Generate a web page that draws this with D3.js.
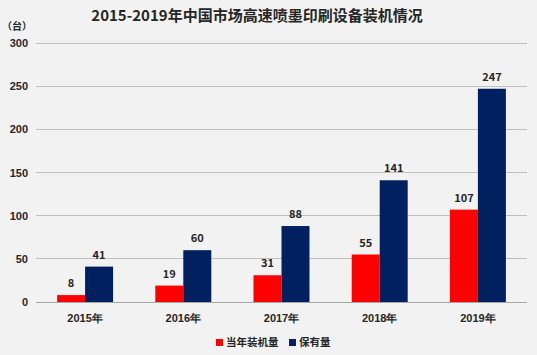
<!DOCTYPE html>
<html><head><meta charset="utf-8">
<script src="https://cdn.jsdelivr.net/npm/d3@7"></script>
<style>body{margin:0;background:#f2f2f2;}svg{display:block;font-family:"Noto Sans CJK SC","Noto Sans",sans-serif;}</style>
</head><body><svg id="c" width="537" height="355"></svg>
<script>
const categories = ["2015年","2016年","2017年","2018年","2019年"];
const seriesNames = ["当年装机量","保有量"];
const installed = [8,19,31,55,107];
const stock = [41,60,88,141,247];
const yTicks = [0,50,100,150,200,250,300];
const title = "2015-2019年中国市场高速喷墨印刷设备装机情况";
const unit = "（台）";
const colors = ["#ff0000","#002060"];

const svg = d3.select("#c");
svg.append("rect").attr("width",537).attr("height",355).attr("fill","#f2f2f2");
const m = {l:36, r:527, t:43, b:302};
const x = d3.scaleBand().domain(categories).range([m.l,m.r]).paddingInner(0.43).paddingOuter(0.215);
const xs = d3.scaleBand().domain(seriesNames).range([0,x.bandwidth()]);
const y = d3.scaleLinear().domain([0,300]).range([m.b,m.t]);

svg.append("g").selectAll("line").data(yTicks).join("line")
  .attr("x1",m.l).attr("x2",m.r).attr("y1",d=>y(d)).attr("y2",d=>y(d))
  .attr("stroke",d=>d===0?"#a6a6a6":"#bfbfbf").attr("stroke-width",1).attr("shape-rendering","crispEdges");

const yAxis = d3.axisLeft(y).tickValues(yTicks).tickSize(0).tickPadding(7);
const ga = svg.append("g").attr("transform",`translate(${m.l-1},0)`).call(yAxis);
ga.select(".domain").remove();
ga.selectAll("text").attr("font-size",11).attr("font-weight","bold").attr("fill","#262626");

const data = categories.map((c,i)=>({c, vals:[installed[i],stock[i]]}));
const g = svg.append("g").selectAll("g").data(data).join("g").attr("transform",d=>`translate(${x(d.c)},0)`);
g.selectAll("rect").data(d=>d.vals.map((v,j)=>({v,s:seriesNames[j],j}))).join("rect")
  .attr("x",d=>xs(d.s)).attr("width",xs.bandwidth()).attr("y",d=>y(d.v)).attr("height",d=>y(0)-y(d.v))
  .attr("fill",d=>colors[d.j]);
g.selectAll("text").data(d=>d.vals.map((v,j)=>({v,s:seriesNames[j],j}))).join("text")
  .attr("x",d=>xs(d.s)+xs.bandwidth()/2).attr("y",d=>y(d.v)-8).attr("text-anchor","middle")
  .attr("font-size",11).attr("font-weight","bold").attr("fill","#262626").text(d=>d.v);

const xAxis = d3.axisBottom(x).tickSize(0).tickPadding(12);
const gx = svg.append("g").attr("transform",`translate(0,${m.b})`).call(xAxis);
gx.select(".domain").remove();
gx.selectAll("text").attr("font-size",11).attr("font-weight","bold").attr("fill","#262626");

svg.append("text").attr("x",257).attr("y",21).attr("text-anchor","middle").attr("font-size",15)
  .attr("font-weight","bold").attr("fill","#262626").text(title);
svg.append("text").attr("x",2).attr("y",30).attr("font-size",10).attr("font-weight","bold").attr("fill","#262626").text(unit);

const lg = svg.append("g").selectAll("g").data(seriesNames).join("g")
  .attr("transform",(d,i)=>`translate(${i===0?216:289},340)`);
lg.append("rect").attr("width",7).attr("height",7).attr("y",-1).attr("fill",(d,i)=>colors[i]);
lg.append("text").attr("x",10).attr("y",6).attr("font-size",10.5).attr("font-weight","bold").attr("fill","#262626").text(d=>d);
</script></body></html>
